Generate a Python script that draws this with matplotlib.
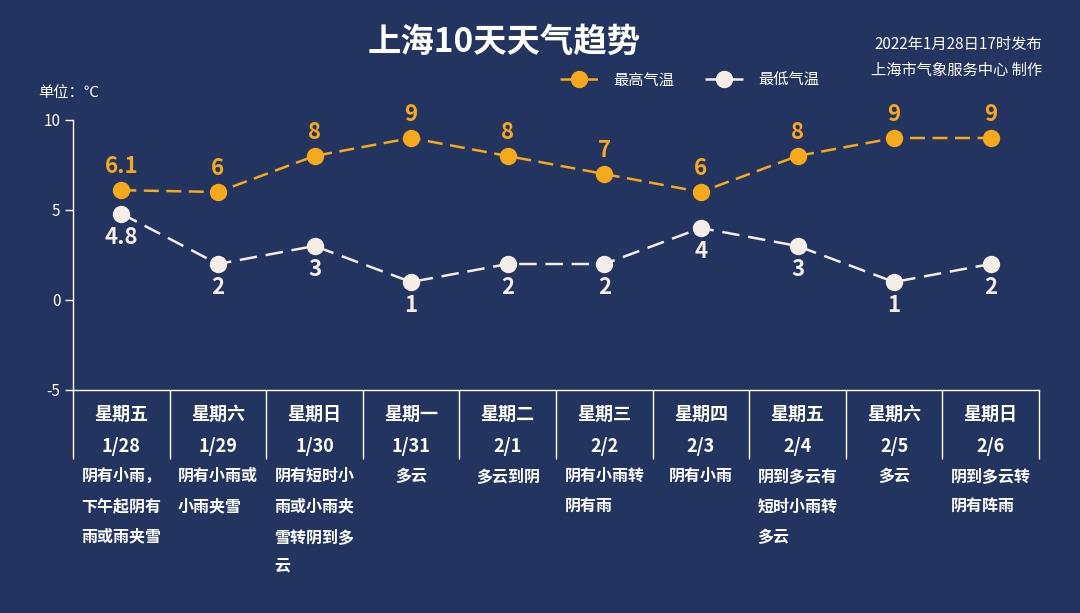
import matplotlib
matplotlib.use("Agg")
import matplotlib.pyplot as plt
import numpy as np

plt.rcParams['font.family'] = ['Noto Sans CJK SC', 'DejaVu Sans']
plt.rcParams['axes.unicode_minus'] = False

# data
weekdays = ["星期五", "星期六", "星期日", "星期一", "星期二", "星期三", "星期四", "星期五", "星期六", "星期日"]
dates = ["1/28", "1/29", "1/30", "1/31", "2/1", "2/2", "2/3", "2/4", "2/5", "2/6"]
weather = ["阴有小雨，\n下午起阴有\n雨或雨夹雪", "阴有小雨或\n小雨夹雪", "阴有短时小\n雨或小雨夹\n雪转阴到多\n云",
           "多云", "多云到阴", "阴有小雨转\n阴有雨", "阴有小雨", "阴到多云有\n短时小雨转\n多云", "多云",
           "阴到多云转\n阴有阵雨"]
high = [6.1, 6, 8, 9, 8, 7, 6, 8, 9, 9]
low = [4.8, 2, 3, 1, 2, 2, 4, 3, 1, 2]

bg = "#233460"
orange = "#F5A91B"
cream = "#F4EEE6"
white = "#FFFFFF"

fig = plt.figure(figsize=(10.8, 6.13), dpi=100, facecolor=bg)
ax = fig.add_axes([73 / 1080, 1 - 390 / 613, 966 / 1080, 270 / 613], facecolor=bg)

x = np.arange(len(dates))
ax.plot(x, high, color=orange, lw=1.8, dashes=(6, 3), marker="o", ms=11.5,
        mfc=orange, mec=orange, label="最高气温", zorder=3)
ax.plot(x, low, color=cream, lw=1.8, dashes=(7, 3.5), marker="o", ms=11.5,
        mfc=cream, mec=cream, label="最低气温", zorder=3)

# value labels
for xi, v in zip(x, high):
    ax.annotate(f"{v:g}", (xi, v), xytext=(0, 17), textcoords="offset points",
                ha="center", va="center", color=orange, fontsize=16, fontweight="bold")
for xi, v in zip(x, low):
    ax.annotate(f"{v:g}", (xi, v), xytext=(0, -17), textcoords="offset points",
                ha="center", va="center", color=cream, fontsize=16, fontweight="bold")

ax.set_xlim(-0.5, len(dates) - 0.5)
ax.set_ylim(-5, 10)
ax.set_yticks([-5, 0, 5, 10])
ax.tick_params(axis="y", colors=white, labelsize=11, length=6, width=1, pad=3)

# category boundaries as long ticks, labels at the centers
ax.set_xticks(np.arange(-0.5, len(dates)), minor=True)
ax.set_xticks(x)
ax.set_xticklabels([f"{w}\n{d}" for w, d in zip(weekdays, dates)], fontsize=13,
                   fontweight="bold", color=white, linespacing=1.85)
ax.tick_params(axis="x", which="major", length=0, pad=11)
ax.tick_params(axis="x", which="minor", length=50, width=1, color=white, direction="out")

for s in ["top", "right"]:
    ax.spines[s].set_visible(False)
for s in ["left", "bottom"]:
    ax.spines[s].set_color(white)
    ax.spines[s].set_linewidth(1)

# weather descriptions under the day columns
for xi, txt in zip(x, weather):
    ax.annotate(txt, (xi, 0), xycoords=ax.get_xaxis_transform(), xytext=(0, -78),
                textcoords="offset pixels", ha="center", va="top", multialignment="left",
                color=white, fontsize=11.5, fontweight="bold", linespacing=2.1)

fig.text(504 / 1080, 1 - 42 / 613, "上海10天天气趋势", ha="center", va="center",
         color=white, fontsize=24, fontweight="bold")
fig.text(1042 / 1080, 1 - 44 / 613, "2022年1月28日17时发布", ha="right", va="center",
         color=white, fontsize=11)
fig.text(1042 / 1080, 1 - 70 / 613, "上海市气象服务中心 制作", ha="right", va="center",
         color=white, fontsize=11)
fig.text(38 / 1080, 1 - 93 / 613, "单位：℃", ha="left", va="center", color=white, fontsize=11)

leg = fig.legend(loc="center", bbox_to_anchor=(690 / 1080, 1 - 80 / 613), ncol=2, frameon=False,
                 fontsize=11, handlelength=2.5, handletextpad=1.0, columnspacing=2.0)
for t in leg.get_texts():
    t.set_color(white)

fig.savefig("out.png", dpi=100, facecolor=bg)
